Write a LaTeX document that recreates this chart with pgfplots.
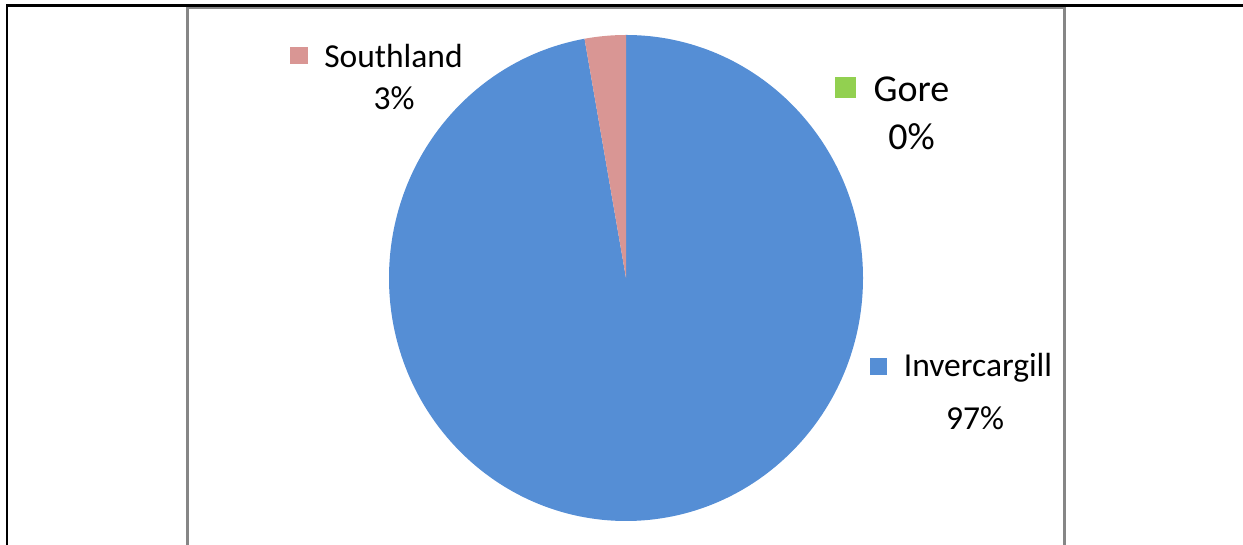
\documentclass[border=0pt]{standalone}
\usepackage{pgfplots}
\pgfplotsset{compat=1.18}
\usepackage{pgfplotstable}
\usepackage{fontspec}
\setmainfont{Carlito}
\definecolor{invblue}{RGB}{85,142,213}
\definecolor{southpink}{RGB}{217,150,148}
\definecolor{goregreen}{RGB}{146,208,80}
\definecolor{framegray}{RGB}{134,134,134}
\pgfplotstableread{
region value
Invercargill 97.2
Gore 0.0
Southland 2.8
}\piedata
\pgfplotstablegetelem{0}{value}\of\piedata\let\vInv\pgfplotsretval
\pgfplotstablegetelem{2}{value}\of\piedata\let\vSouth\pgfplotsretval
\pgfmathsetmacro\aInv{3.6*\vInv}
\pgfmathsetmacro\aSouth{3.6*\vSouth}
\begin{document}%
\begin{tikzpicture}
\begin{axis}[hide axis, x=0.5pt, y=0.5pt, xmin=0, xmax=1243, ymin=0, ymax=545, clip=false]
\coordinate (BL) at (axis cs:0,0);
\coordinate (TR) at (axis cs:1243,545);
% table frame lines
\draw[black, line width=1.3pt] (axis cs:7,539.5) -- (axis cs:1243,539.5);
\draw[black, line width=1pt] (axis cs:7,0) -- (axis cs:7,540.8);
% chart frame
\draw[framegray, line width=1.2pt] (axis cs:187.5,0) -- (axis cs:187.5,536.8) -- (axis cs:1064.3,536.8) -- (axis cs:1064.3,0);
% pie
\fill[invblue] (axis cs:626,267) -- (axis cs:626,510) arc[start angle=90, end angle={90-\aInv}, x radius=118.5pt, y radius=121.5pt] -- cycle;
\fill[southpink] (axis cs:626,267) -- (axis cs:626,510) arc[start angle=90, end angle={90+\aSouth}, x radius=118.5pt, y radius=121.5pt] -- cycle;
% labels
\fill[southpink] (axis cs:290,498) rectangle (axis cs:308,481);
\node[anchor=base, inner sep=0pt, font=\fontsize{16.75}{20}\selectfont] at (axis cs:393.5,477) {Southland};
\node[anchor=base, inner sep=0pt, font=\fontsize{16.75}{20}\selectfont] at (axis cs:394,435) {3\%};
\fill[goregreen] (axis cs:835,468) rectangle (axis cs:856,447);
\node[anchor=base, inner sep=0pt, font=\fontsize{19}{22}\selectfont] at (axis cs:911.5,443) {Gore};
\node[anchor=base, inner sep=0pt, font=\fontsize{19}{22}\selectfont] at (axis cs:911.5,395) {0\%};
\fill[invblue] (axis cs:870,187) rectangle (axis cs:887,170);
\node[anchor=base, inner sep=0pt, font=\fontsize{16.75}{20}\selectfont] at (axis cs:978,168) {Invercargill};
\node[anchor=base, inner sep=0pt, font=\fontsize{16.75}{20}\selectfont] at (axis cs:975,115) {97\%};
\end{axis}
\pgfresetboundingbox
\path[use as bounding box] (BL) rectangle (TR);
\end{tikzpicture}%
\end{document}
